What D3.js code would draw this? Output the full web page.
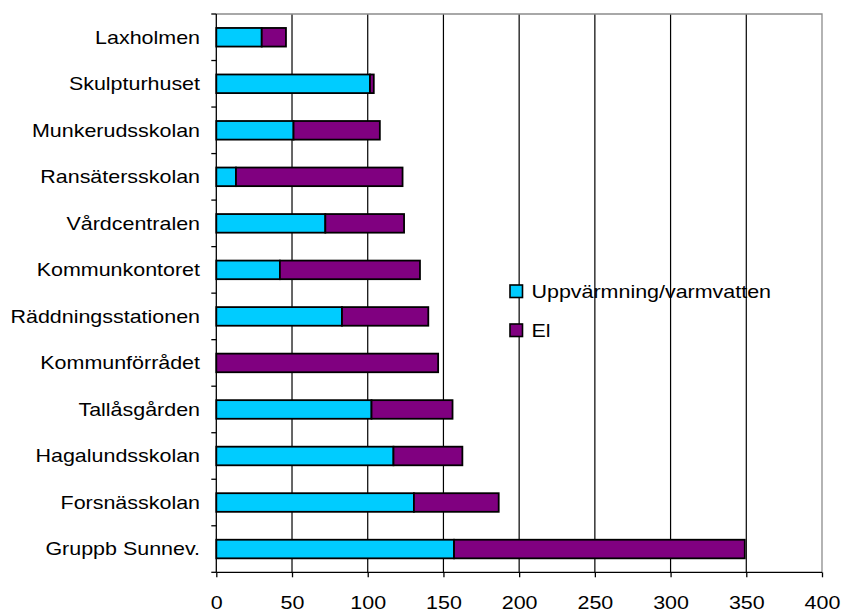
<!DOCTYPE html>
<html>
<head>
<meta charset="utf-8">
<script src="https://cdn.jsdelivr.net/npm/d3@7/dist/d3.min.js"></script>
<style>
  html, body { margin: 0; padding: 0; background: #fff; }
  svg { display: block; }
  text { font-family: "Liberation Sans", Arial, sans-serif; fill: #000; }
</style>
</head>
<body>
<svg id="chart" width="841" height="612"></svg>
<script>
// Buildings, top to bottom
const categories = [
  "Laxholmen", "Skulpturhuset", "Munkerudsskolan", "Ransätersskolan",
  "Vårdcentralen", "Kommunkontoret", "Räddningsstationen", "Kommunförrådet",
  "Tallåsgården", "Hagalundsskolan", "Forsnässkolan", "Gruppb Sunnev."
];
// Heating / hot water
const heating = [30, 101.5, 51, 13, 72, 42, 83, 0, 102.5, 117, 130.5, 157];
// Electricity
const electricity = [16, 2.5, 57, 110, 52, 92.5, 57, 146.5, 53.5, 45.5, 56, 192];
const seriesNames = ["Uppvärmning/varmvatten", "El"];
const seriesColors = ["#00CCFF", "#800080"];
const xTicks = [0, 50, 100, 150, 200, 250, 300, 350, 400];

const FONT = 18.5, STRETCH = 1.16;
const svg = d3.select("#chart");
const plotLeft = 216.3, plotRight = 822, plotTop = 14, plotBottom = 572.3;

const x = d3.scaleLinear().domain([0, 400]).range([plotLeft, plotRight]);
const y = d3.scaleBand().domain(categories).range([plotTop, plotBottom])
  .paddingInner(0.6).paddingOuter(0.3);

// Vertical gridlines
svg.append("g").selectAll("line")
  .data(xTicks.filter(t => t > 0 && t < 400))
  .join("line")
  .attr("x1", d => x(d)).attr("x2", d => x(d))
  .attr("y1", plotTop).attr("y2", plotBottom)
  .attr("stroke", "#000").attr("stroke-width", 1.2);

// Plot frame (top and right)
svg.append("path")
  .attr("d", `M${plotLeft},${plotTop}H${plotRight}V${plotBottom}`)
  .attr("fill", "none").attr("stroke", "#8c8c8c").attr("stroke-width", 1.3);

// Stacked bars
const rows = categories.map((c, i) => ({ cat: c, heating: heating[i], el: electricity[i] }));
const stacked = d3.stack().keys(["heating", "el"])(rows);
svg.append("g").selectAll("g")
  .data(stacked)
  .join("g")
  .attr("fill", (d, i) => seriesColors[i])
  .selectAll("rect")
  .data(d => d.filter(p => p[1] - p[0] > 0))
  .join("rect")
  .attr("x", d => x(d[0]))
  .attr("width", d => x(d[1]) - x(d[0]))
  .attr("y", d => y(d.data.cat))
  .attr("height", y.bandwidth())
  .attr("stroke", "#000").attr("stroke-width", 1.8);

// Left axis line and category boundary ticks
const boundaries = d3.range(categories.length + 1).map(i => plotTop + i * y.step());
svg.append("line")
  .attr("x1", plotLeft).attr("x2", plotLeft).attr("y1", plotTop).attr("y2", plotBottom)
  .attr("stroke", "#000").attr("stroke-width", 1.3);
svg.append("g").selectAll("line").data(boundaries).join("line")
  .attr("x1", plotLeft - 5).attr("x2", plotLeft)
  .attr("y1", d => d).attr("y2", d => d)
  .attr("stroke", "#000").attr("stroke-width", 1.3);

// Category labels
svg.append("g").selectAll("text").data(categories).join("text")
  .attr("transform", d => `translate(200,${y(d) + y.bandwidth() / 2 + 6.3}) scale(${STRETCH},1)`)
  .attr("text-anchor", "end")
  .attr("font-size", FONT)
  .text(d => d);

// Bottom axis
const xAxis = svg.append("g")
  .attr("transform", `translate(0,${plotBottom})`)
  .call(d3.axisBottom(x).tickValues(xTicks).tickSize(5).tickFormat(d3.format("d")));
xAxis.select(".domain").attr("stroke", "#000").attr("stroke-width", 1.3)
  .attr("d", `M${plotLeft},0H${plotRight}`);
xAxis.selectAll(".tick line").attr("stroke", "#000").attr("stroke-width", 1.3);
xAxis.selectAll(".tick text")
  .attr("y", null).attr("dy", null)
  .attr("font-family", "Liberation Sans, Arial, sans-serif")
  .attr("font-size", FONT)
  .attr("fill", "#000")
  .attr("transform", `translate(0,37) scale(${STRETCH},1)`);

// Legend
const legend = svg.append("g");
seriesNames.forEach((name, i) => {
  const ly = 285 + i * 39;
  legend.append("rect")
    .attr("x", 510).attr("y", ly).attr("width", 12.5).attr("height", 12.5)
    .attr("fill", seriesColors[i]).attr("stroke", "#000").attr("stroke-width", 1.6);
  legend.append("text")
    .attr("transform", `translate(531.5,${ly + 12.5}) scale(${STRETCH},1)`)
    .attr("font-size", FONT)
    .text(name);
});
</script>
</body>
</html>
